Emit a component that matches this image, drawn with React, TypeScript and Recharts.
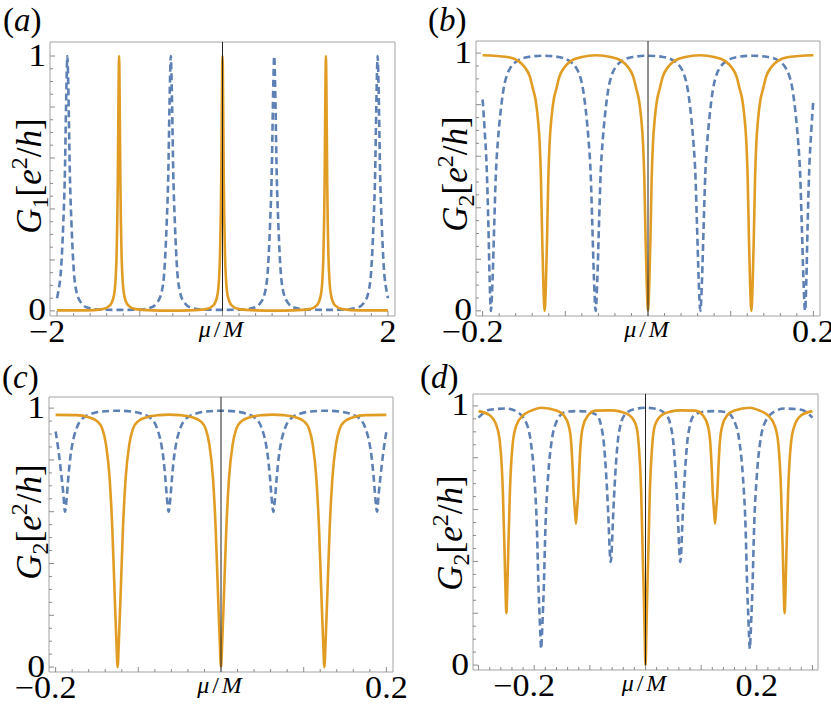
import React from 'react';
import { LineChart, Line, XAxis, YAxis, ReferenceLine, ReferenceArea } from 'recharts';

type Pt = [number, number];

const ORANGE = '#E19C24';
const BLUE = '#5E81B5';
const FRAME = '#a3a3a3';
const TICK = '#8a8a8a';
const SERIF = '"Liberation Serif", "Times New Roman", serif';

// tick values
const Y_TICKS = [0, 0.05, 0.1, 0.15, 0.2, 0.25, 0.3, 0.35, 0.4, 0.45, 0.5, 0.55, 0.6, 0.65, 0.7, 0.75, 0.8, 0.85, 0.9, 0.95, 1];
const Y_LABELS = [0, 1];
const XA_TICKS = [-2, -1.8, -1.6, -1.4, -1.2, -1, -0.8, -0.6, -0.4, -0.2, 0, 0.2, 0.4, 0.6, 0.8, 1, 1.2, 1.4, 1.6, 1.8, 2];
const XA_LABELS = [-2, 2];
const XB_TICKS = [-0.2, -0.18, -0.16, -0.14, -0.12, -0.1, -0.08, -0.06, -0.04, -0.02, 0, 0.02, 0.04, 0.06, 0.08, 0.1, 0.12, 0.14, 0.16, 0.18, 0.2];
const XD_TICKS = [-0.3, -0.28, -0.26, -0.24, -0.22, -0.2, -0.18, -0.16, -0.14, -0.12, -0.1, -0.08, -0.06, -0.04, -0.02, 0, 0.02, 0.04, 0.06, 0.08, 0.1, 0.12, 0.14, 0.16, 0.18, 0.2, 0.22, 0.24, 0.26, 0.28, 0.3];
const XB_LABELS = [-0.2, 0.2];

// (a) G1, peaks
const A_BLUE: Pt[] = [
  [-2, 0.05], [-1.985, 0.075], [-1.95, 0.17], [-1.925, 0.34], [-1.905, 0.54], [-1.891, 0.8], [-1.883, 0.93], [-1.875, 1.0],
  [-1.867, 0.93], [-1.859, 0.8], [-1.845, 0.54], [-1.825, 0.34], [-1.8, 0.17], [-1.765, 0.075], [-1.705, 0.03], [-1.625, 0.012],
  [-1.475, 0.005], [-1.25, 0.004], [-1.025, 0.005], [-0.875, 0.012], [-0.795, 0.03], [-0.735, 0.075], [-0.7, 0.17], [-0.675, 0.34],
  [-0.655, 0.54], [-0.641, 0.8], [-0.633, 0.93], [-0.625, 1.0], [-0.617, 0.93], [-0.609, 0.8], [-0.595, 0.54], [-0.575, 0.34],
  [-0.55, 0.17], [-0.515, 0.075], [-0.455, 0.03], [-0.375, 0.012], [-0.225, 0.005], [0, 0.004], [0.225, 0.005], [0.375, 0.012],
  [0.455, 0.03], [0.515, 0.075], [0.55, 0.17], [0.575, 0.34], [0.595, 0.54], [0.609, 0.8], [0.617, 0.93], [0.625, 1.0],
  [0.633, 0.93], [0.641, 0.8], [0.655, 0.54], [0.675, 0.34], [0.7, 0.17], [0.735, 0.075], [0.795, 0.03], [0.875, 0.012],
  [1.025, 0.005], [1.25, 0.004], [1.475, 0.005], [1.625, 0.012], [1.705, 0.03], [1.765, 0.075], [1.8, 0.17], [1.825, 0.34],
  [1.845, 0.54], [1.859, 0.8], [1.867, 0.93], [1.875, 1.0], [1.883, 0.93], [1.891, 0.8], [1.905, 0.54], [1.925, 0.34],
  [1.95, 0.17], [1.985, 0.075], [2, 0.05],
];
const A_ORANGE: Pt[] = [
  [-2, 0.002], [-1.65, 0.002], [-1.45, 0.007], [-1.36, 0.022], [-1.314, 0.058], [-1.292, 0.125], [-1.28, 0.22], [-1.272, 0.35],
  [-1.266, 0.5], [-1.26, 0.72], [-1.255, 0.91], [-1.25, 1.0], [-1.245, 0.91], [-1.24, 0.72], [-1.234, 0.5], [-1.228, 0.35],
  [-1.22, 0.22], [-1.208, 0.125], [-1.186, 0.058], [-1.14, 0.022], [-1.05, 0.007], [-0.85, 0.002], [-0.625, 0.001], [-0.4, 0.002],
  [-0.2, 0.007], [-0.11, 0.022], [-0.064, 0.058], [-0.042, 0.125], [-0.03, 0.22], [-0.022, 0.35], [-0.016, 0.5], [-0.01, 0.72],
  [-0.005, 0.91], [0, 1.0], [0.005, 0.91], [0.01, 0.72], [0.016, 0.5], [0.022, 0.35], [0.03, 0.22], [0.042, 0.125],
  [0.064, 0.058], [0.11, 0.022], [0.2, 0.007], [0.4, 0.002], [0.625, 0.001], [0.85, 0.002], [1.05, 0.007], [1.14, 0.022],
  [1.186, 0.058], [1.208, 0.125], [1.22, 0.22], [1.228, 0.35], [1.234, 0.5], [1.24, 0.72], [1.245, 0.91], [1.25, 1.0],
  [1.255, 0.91], [1.26, 0.72], [1.266, 0.5], [1.272, 0.35], [1.28, 0.22], [1.292, 0.125], [1.314, 0.058], [1.36, 0.022],
  [1.45, 0.007], [1.65, 0.002], [2, 0.002],
];

// (b) G2, dips down to zero
const B_BLUE: Pt[] = [
  [-0.2, 0.82], [-0.1975, 0.7], [-0.195, 0.55], [-0.193, 0.33], [-0.1915, 0.12], [-0.19, 0], [-0.188, 0.12], [-0.186, 0.33],
  [-0.184, 0.53], [-0.1815, 0.66], [-0.179, 0.75], [-0.1747, 0.86], [-0.17, 0.92], [-0.166, 0.945], [-0.158, 0.97], [-0.145, 0.985],
  [-0.1267, 0.99], [-0.1083, 0.985], [-0.0953, 0.97], [-0.0873, 0.945], [-0.0833, 0.92], [-0.0786, 0.86], [-0.0743, 0.75], [-0.0718, 0.66],
  [-0.0693, 0.53], [-0.0673, 0.33], [-0.0653, 0.12], [-0.0633, 0], [-0.0613, 0.12], [-0.0593, 0.33], [-0.0573, 0.53], [-0.0548, 0.66],
  [-0.0523, 0.75], [-0.048, 0.86], [-0.0433, 0.92], [-0.0393, 0.945], [-0.0313, 0.97], [-0.0183, 0.985], [0, 0.99], [0.0183, 0.985],
  [0.0313, 0.97], [0.0393, 0.945], [0.0433, 0.92], [0.048, 0.86], [0.0523, 0.75], [0.0548, 0.66], [0.0573, 0.53], [0.0593, 0.33],
  [0.0613, 0.12], [0.0633, 0], [0.0653, 0.12], [0.0673, 0.33], [0.0693, 0.53], [0.0718, 0.66], [0.0743, 0.75], [0.0786, 0.86],
  [0.0833, 0.92], [0.0873, 0.945], [0.0953, 0.97], [0.1083, 0.985], [0.1267, 0.99], [0.145, 0.985], [0.158, 0.97], [0.166, 0.945],
  [0.17, 0.92], [0.1747, 0.86], [0.179, 0.75], [0.1815, 0.66], [0.184, 0.53], [0.186, 0.33], [0.188, 0.12], [0.19, 0],
  [0.1915, 0.12], [0.193, 0.33], [0.195, 0.55], [0.1975, 0.7], [0.2, 0.82],
];
const B_ORANGE: Pt[] = [
  [-0.2, 0.992], [-0.17, 0.985], [-0.157, 0.97], [-0.149, 0.945], [-0.143, 0.91], [-0.139, 0.86], [-0.136, 0.82], [-0.133, 0.74],
  [-0.131, 0.65], [-0.1295, 0.52], [-0.128, 0.29], [-0.1265, 0.1], [-0.125, 0], [-0.1235, 0.1], [-0.122, 0.29], [-0.1205, 0.52],
  [-0.119, 0.65], [-0.117, 0.74], [-0.114, 0.82], [-0.111, 0.86], [-0.107, 0.91], [-0.101, 0.945], [-0.093, 0.97], [-0.08, 0.985],
  [-0.0625, 0.992], [-0.045, 0.985], [-0.032, 0.97], [-0.024, 0.945], [-0.018, 0.91], [-0.014, 0.86], [-0.011, 0.82], [-0.008, 0.74],
  [-0.006, 0.65], [-0.0045, 0.52], [-0.003, 0.29], [-0.0015, 0.1], [0, 0], [0.0015, 0.1], [0.003, 0.29], [0.0045, 0.52],
  [0.006, 0.65], [0.008, 0.74], [0.011, 0.82], [0.014, 0.86], [0.018, 0.91], [0.024, 0.945], [0.032, 0.97], [0.045, 0.985],
  [0.0625, 0.992], [0.08, 0.985], [0.093, 0.97], [0.101, 0.945], [0.107, 0.91], [0.111, 0.86], [0.114, 0.82], [0.117, 0.74],
  [0.119, 0.65], [0.1205, 0.52], [0.122, 0.29], [0.1235, 0.1], [0.125, 0], [0.1265, 0.1], [0.128, 0.29], [0.1295, 0.52],
  [0.131, 0.65], [0.133, 0.74], [0.136, 0.82], [0.139, 0.86], [0.143, 0.91], [0.149, 0.945], [0.157, 0.97], [0.17, 0.985],
  [0.2, 0.992],
];

// (c) G2, shallow blue dips
const C_BLUE: Pt[] = [
  [-0.2, 0.91], [-0.1967, 0.84], [-0.1937, 0.76], [-0.1907, 0.67], [-0.1887, 0.6], [-0.1867, 0.65], [-0.1847, 0.73], [-0.1822, 0.81],
  [-0.1798, 0.86], [-0.1746, 0.923], [-0.1667, 0.962], [-0.1567, 0.978], [-0.1437, 0.987], [-0.126, 0.99], [-0.1083, 0.987], [-0.0953, 0.978],
  [-0.0853, 0.962], [-0.0774, 0.923], [-0.0722, 0.86], [-0.0698, 0.81], [-0.0673, 0.73], [-0.0653, 0.65], [-0.0633, 0.6], [-0.0613, 0.65],
  [-0.0593, 0.73], [-0.0568, 0.81], [-0.0544, 0.86], [-0.0492, 0.923], [-0.0413, 0.962], [-0.0313, 0.978], [-0.0183, 0.987], [0, 0.99],
  [0.0183, 0.987], [0.0313, 0.978], [0.0413, 0.962], [0.0492, 0.923], [0.0544, 0.86], [0.0568, 0.81], [0.0593, 0.73], [0.0613, 0.65],
  [0.0633, 0.6], [0.0653, 0.65], [0.0673, 0.73], [0.0698, 0.81], [0.0722, 0.86], [0.0774, 0.923], [0.0853, 0.962], [0.0953, 0.978],
  [0.1083, 0.987], [0.126, 0.99], [0.1437, 0.987], [0.1567, 0.978], [0.1667, 0.962], [0.1746, 0.923], [0.1798, 0.86], [0.1822, 0.81],
  [0.1847, 0.73], [0.1867, 0.65], [0.1887, 0.6], [0.1907, 0.67], [0.1937, 0.76], [0.1967, 0.84], [0.2, 0.91],
];
const C_ORANGE: Pt[] = [
  [-0.2, 0.974], [-0.175, 0.973], [-0.16, 0.965], [-0.15, 0.95], [-0.1435, 0.92], [-0.1391, 0.86], [-0.1347, 0.73], [-0.1315, 0.54],
  [-0.1286, 0.28], [-0.1265, 0.1], [-0.125, 0], [-0.1235, 0.1], [-0.1214, 0.28], [-0.1185, 0.54], [-0.1153, 0.73], [-0.1109, 0.86],
  [-0.1065, 0.92], [-0.1, 0.95], [-0.09, 0.965], [-0.075, 0.973], [-0.0625, 0.975], [-0.05, 0.973], [-0.035, 0.965], [-0.025, 0.95],
  [-0.0185, 0.92], [-0.0141, 0.86], [-0.0097, 0.73], [-0.0065, 0.54], [-0.0036, 0.28], [-0.0015, 0.1], [0, 0], [0.0015, 0.1],
  [0.0036, 0.28], [0.0065, 0.54], [0.0097, 0.73], [0.0141, 0.86], [0.0185, 0.92], [0.025, 0.95], [0.035, 0.965], [0.05, 0.973],
  [0.0625, 0.975], [0.075, 0.973], [0.09, 0.965], [0.1, 0.95], [0.1065, 0.92], [0.1109, 0.86], [0.1153, 0.73], [0.1185, 0.54],
  [0.1214, 0.28], [0.1235, 0.1], [0.125, 0], [0.1265, 0.1], [0.1286, 0.28], [0.1315, 0.54], [0.1347, 0.73], [0.1391, 0.86],
  [0.1435, 0.92], [0.15, 0.95], [0.16, 0.965], [0.175, 0.973], [0.2, 0.974],
];

// (d) G2, wider window
const D_BLUE: Pt[] = [
  [-0.3, 0.955], [-0.28, 0.985], [-0.25, 0.99], [-0.23, 0.976], [-0.2125, 0.925], [-0.2061, 0.861], [-0.2001, 0.732], [-0.1953, 0.539],
  [-0.192, 0.282], [-0.1905, 0.2], [-0.189, 0.12], [-0.1875, 0.063], [-0.186, 0.12], [-0.1845, 0.2], [-0.183, 0.282], [-0.1797, 0.539],
  [-0.1749, 0.732], [-0.1689, 0.861], [-0.1625, 0.925], [-0.1455, 0.976], [-0.125, 0.98], [-0.105, 0.978], [-0.0871, 0.964], [-0.0799, 0.925],
  [-0.0751, 0.861], [-0.0706, 0.732], [-0.0661, 0.539], [-0.0645, 0.45], [-0.0625, 0.398], [-0.0605, 0.45], [-0.0589, 0.539], [-0.0544, 0.732],
  [-0.0499, 0.861], [-0.0451, 0.925], [-0.0379, 0.964], [-0.02, 0.988], [0, 0.993], [0.02, 0.988], [0.0379, 0.964], [0.0451, 0.925],
  [0.0499, 0.861], [0.0544, 0.732], [0.0589, 0.539], [0.0605, 0.45], [0.0625, 0.398], [0.0645, 0.45], [0.0661, 0.539], [0.0706, 0.732],
  [0.0751, 0.861], [0.0799, 0.925], [0.0871, 0.964], [0.105, 0.978], [0.125, 0.98], [0.1455, 0.976], [0.1625, 0.925], [0.1689, 0.861],
  [0.1749, 0.732], [0.1797, 0.539], [0.183, 0.282], [0.1845, 0.2], [0.186, 0.12], [0.1875, 0.063], [0.189, 0.12], [0.1905, 0.2],
  [0.192, 0.282], [0.1953, 0.539], [0.2001, 0.732], [0.2061, 0.861], [0.2125, 0.925], [0.23, 0.976], [0.25, 0.99], [0.28, 0.985],
  [0.3, 0.955],
];
const D_ORANGE: Pt[] = [
  [-0.3, 0.98], [-0.28, 0.964], [-0.268, 0.925], [-0.2617, 0.861], [-0.2563, 0.668], [-0.253, 0.41], [-0.2515, 0.28], [-0.25, 0.2],
  [-0.2485, 0.28], [-0.247, 0.41], [-0.2437, 0.668], [-0.2383, 0.861], [-0.232, 0.925], [-0.22, 0.964], [-0.205, 0.982], [-0.1875, 0.993],
  [-0.16, 0.982], [-0.147, 0.964], [-0.1382, 0.925], [-0.1337, 0.861], [-0.131, 0.76], [-0.1292, 0.668], [-0.127, 0.6], [-0.125, 0.546],
  [-0.123, 0.6], [-0.1208, 0.668], [-0.119, 0.76], [-0.1163, 0.861], [-0.1118, 0.925], [-0.103, 0.964], [-0.09, 0.982], [-0.0625, 0.983],
  [-0.045, 0.978], [-0.029, 0.964], [-0.017, 0.925], [-0.0126, 0.861], [-0.0078, 0.668], [-0.0048, 0.41], [-0.003, 0.27], [-0.0015, 0.12],
  [0, 0], [0.0015, 0.12], [0.003, 0.27], [0.0048, 0.41], [0.0078, 0.668], [0.0126, 0.861], [0.017, 0.925], [0.029, 0.964],
  [0.045, 0.978], [0.0625, 0.983], [0.09, 0.982], [0.103, 0.964], [0.1118, 0.925], [0.1163, 0.861], [0.119, 0.76], [0.1208, 0.668],
  [0.123, 0.6], [0.125, 0.546], [0.127, 0.6], [0.1292, 0.668], [0.131, 0.76], [0.1337, 0.861], [0.1382, 0.925], [0.147, 0.964],
  [0.16, 0.982], [0.1875, 0.993], [0.205, 0.982], [0.22, 0.964], [0.232, 0.925], [0.2383, 0.861], [0.2437, 0.668], [0.247, 0.41],
  [0.2485, 0.28], [0.25, 0.2], [0.2515, 0.28], [0.253, 0.41], [0.2563, 0.668], [0.2617, 0.861], [0.268, 0.925], [0.28, 0.964],
  [0.3, 0.98],
];

const rows = (pts: Pt[]) => pts.map(([x, y]) => ({ x, y }));
const isMajor = (v: number, step: number) => Math.abs(v / step - Math.round(v / step)) < 1e-6;
const fmt = (v: number) => (v < 0 ? '\u2212' + String(-v) : String(v));

// room around each frame, inside the chart's svg
const ML = 54;
const MT = 44;
const MR = 34;
const MB = 36;

const XTick = ({ x, y, payload, labels, major }: any) => {
  const v = payload.value;
  const len = isMajor(v, major) ? 5 : 3;
  return (
    <g>
      <line x1={x} y1={y} x2={x} y2={y - len} stroke={TICK} strokeWidth={1} />
      {labels.includes(v) && (
        <text
          transform={`translate(${x + (v < 0 ? -10 : 0)},${y + 26}) scale(1.1,1)`}
          textAnchor="middle"
          fontFamily={SERIF}
          fontSize={31}
          fill="#000"
        >
          {fmt(v)}
        </text>
      )}
    </g>
  );
};

const YTick = ({ x, y, payload }: any) => {
  const v = payload.value;
  const len = isMajor(v, 0.2) ? 5 : 3;
  return (
    <g>
      <line x1={x} y1={y} x2={x + len} y2={y} stroke={TICK} strokeWidth={1} />
      {Y_LABELS.includes(v) && (
        <text
          transform={`translate(${x - 4},${y - 1}) scale(1.15,1)`}
          dy="0.34em"
          textAnchor="end"
          fontFamily={SERIF}
          fontSize={31}
          fill="#000"
        >
          {v}
        </text>
      )}
    </g>
  );
};

const YDecor = ({ sub, letter, cx, cy, lx, ly }: any) => (
  <g>
    <text transform={`translate(${cx},${cy}) rotate(-90)`} textAnchor="middle" fontFamily={SERIF} fontSize={35} fill="#000">
      <tspan y={12} fontStyle="italic">G</tspan>
      <tspan fontSize={24} dy={7}>{sub}</tspan>
      <tspan dy={-7}>[</tspan>
      <tspan fontStyle="italic">e</tspan>
      <tspan fontSize={24} dy={-14}>2</tspan>
      <tspan dy={14}>/</tspan>
      <tspan fontStyle="italic">h</tspan>
      <tspan>]</tspan>
    </text>
    <text x={lx} y={ly} fontFamily={SERIF} fontSize={33} fill="#000">
      (<tspan fontStyle="italic">{letter}</tspan>)
    </text>
  </g>
);

const XDecor = ({ cx, cy }: any) => (
  <text x={cx} y={cy} textAnchor="middle" fontFamily={SERIF} fontSize={24} letterSpacing={3} fill="#000">
    <tspan fontStyle="italic">μ</tspan>/<tspan fontStyle="italic">M</tspan>
  </text>
);

const Panel = ({ cfg }: any) => {
  const { frame } = cfg;
  const W = frame.width + ML + MR;
  const H = frame.height + MT + MB;
  const [xMin, xMax] = cfg.xDomain;
  const [yMin, yMax] = cfg.yDomain;
  const ox = frame.left - ML;
  const oy = frame.top - MT;
  return (
    <div style={{ position: 'absolute', left: ox, top: oy, width: W, height: H }}>
      <LineChart width={W} height={H} margin={{ top: MT, right: MR, bottom: 0, left: 0 }}>
        <XAxis
          type="number"
          dataKey="x"
          domain={cfg.xDomain}
          ticks={cfg.xTicks}
          interval={0}
          allowDataOverflow
          height={MB}
          axisLine={false}
          tickLine={false}
          tickSize={0}
          tickMargin={0}
          tick={(props: any) => <XTick {...props} labels={cfg.xLabels} major={cfg.xMajor} />}
          label={<XDecor cx={ML + frame.width / 2} cy={MT + frame.height + 21} />}
        />
        <YAxis
          type="number"
          domain={cfg.yDomain}
          ticks={Y_TICKS}
          interval={0}
          allowDataOverflow
          width={ML}
          axisLine={false}
          tickLine={false}
          tickSize={0}
          tickMargin={0}
          tick={(props: any) => <YTick {...props} />}
          label={
            <YDecor
              sub={cfg.sub}
              letter={cfg.letter}
              cx={cfg.yLabel[0] - ox}
              cy={cfg.yLabel[1] - oy}
              lx={cfg.letterPos[0] - ox}
              ly={cfg.letterPos[1] - oy}
            />
          }
        />
        <ReferenceArea x1={xMin} x2={xMax} y1={yMin} y2={yMax} fill="none" stroke={FRAME} strokeWidth={1} ifOverflow="visible" />
        <Line data={rows(cfg.blue)} dataKey="y" type="monotone" stroke={BLUE} strokeWidth={2.6} strokeDasharray="7 4" dot={false} isAnimationActive={false} />
        <Line data={rows(cfg.orange)} dataKey="y" type="monotone" stroke={ORANGE} strokeWidth={2.6} dot={false} isAnimationActive={false} />
        <ReferenceLine x={0} stroke="#222" strokeWidth={1} ifOverflow="visible" />
      </LineChart>
    </div>
  );
};

const PANELS = [
  {
    frame: { left: 50, top: 42, width: 345, height: 274 },
    xDomain: [-2.085, 2.085], yDomain: [-0.02, 1.055],
    xTicks: XA_TICKS, xLabels: XA_LABELS, xMajor: 1,
    blue: A_BLUE, orange: A_ORANGE, sub: '1', letter: 'a',
    yLabel: [29, 176], letterPos: [3, 31],
  },
  {
    frame: { left: 476, top: 41, width: 344, height: 275 },
    xDomain: [-0.208, 0.208], yDomain: [-0.02, 1.047],
    xTicks: XB_TICKS, xLabels: XB_LABELS, xMajor: 0.1,
    blue: B_BLUE, orange: B_ORANGE, sub: '2', letter: 'b',
    yLabel: [455, 174], letterPos: [428, 31],
  },
  {
    frame: { left: 49, top: 397, width: 344, height: 275 },
    xDomain: [-0.208, 0.208], yDomain: [-0.019, 1.043],
    xTicks: XB_TICKS, xLabels: XB_LABELS, xMajor: 0.1,
    blue: C_BLUE, orange: C_ORANGE, sub: '2', letter: 'c',
    yLabel: [29, 522], letterPos: [2, 388],
  },
  {
    frame: { left: 473, top: 394, width: 345, height: 276 },
    xDomain: [-0.31, 0.31], yDomain: [-0.019, 1.046],
    xTicks: XD_TICKS, xLabels: XB_LABELS, xMajor: 0.1,
    blue: D_BLUE, orange: D_ORANGE, sub: '2', letter: 'd',
    yLabel: [450, 533], letterPos: [420, 388],
  },
];

export default function App() {
  return (
    <div style={{ position: 'absolute', left: 0, top: 0, width: 831, height: 716, background: '#fff', overflow: 'hidden' }}>
      {PANELS.map((cfg, i) => (
        <Panel key={i} cfg={cfg} />
      ))}
    </div>
  );
}
